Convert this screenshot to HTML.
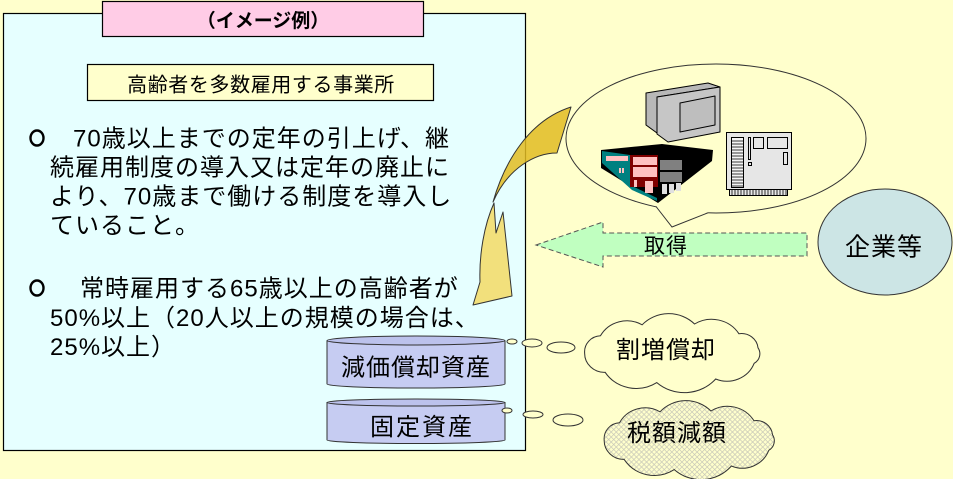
<!DOCTYPE html>
<html><head><meta charset="utf-8">
<style>
html,body{margin:0;padding:0;background:#FFFFCC;}
svg{display:block;}
text{font-family:"Liberation Sans","Noto Sans CJK JP",sans-serif;fill:#000;}
</style></head>
<body>
<svg width="953" height="479" viewBox="0 0 953 479" xmlns="http://www.w3.org/2000/svg">
<defs>
<pattern id="hatch" width="5" height="5" patternUnits="userSpaceOnUse">
<rect width="5" height="5" fill="#FFFFCC"/>
<path d="M0,0 L5,5 M5,0 L0,5" stroke="#C8C8B8" stroke-width="0.7"/>
</pattern>
</defs>
<rect x="0" y="0" width="953" height="479" fill="#FFFFCC"/>

<!-- main panel -->
<rect x="3.5" y="13.5" width="522" height="437" fill="#E6FFFF" stroke="#000" stroke-width="1.2"/>
<!-- pink title -->
<rect x="102.5" y="1.5" width="321" height="35" fill="#FFCCE6" stroke="#000" stroke-width="1.2"/>
<text x="263" y="27" text-anchor="middle" font-size="19" font-weight="bold">（イメージ例）</text>
<!-- yellow subtitle -->
<rect x="87.5" y="64.5" width="346" height="36" fill="#FFFFCC" stroke="#000" stroke-width="1.2"/>
<text x="261" y="91.5" text-anchor="middle" font-size="20" style="letter-spacing:0.6px">高齢者を多数雇用する事業所</text>

<!-- bullet marks -->
<ellipse cx="37" cy="138" rx="6.5" ry="7.5" fill="none" stroke="#000" stroke-width="2.4"/>
<ellipse cx="37" cy="288" rx="6.5" ry="7.5" fill="none" stroke="#000" stroke-width="2.4"/>

<!-- bullet text -->
<g font-size="24" style="letter-spacing:1px">
<text x="73" y="146.5">70歳以上までの定年の引上げ、継</text>
<text x="50" y="175.5">続雇用制度の導入又は定年の廃止に</text>
<text x="50" y="204.5">より、70歳まで働ける制度を導入し</text>
<text x="50" y="233.5">ていること。</text>
<text x="80" y="296.5">常時雇用する65歳以上の高齢者が</text>
<text x="50" y="326">50%以上（20人以上の規模の場合は、</text>
<text x="50" y="355">25%以上）</text>
</g>

<!-- cylinders -->
<path d="M327,341 L327,384 A89,4 0 0 0 505,384 L505,341 Z" fill="#C6CCF2" stroke="#333" stroke-width="1"/>
<ellipse cx="416" cy="340.5" rx="89" ry="4.5" fill="#BCC2EC" stroke="#333" stroke-width="1"/>
<text x="416" y="375.5" text-anchor="middle" font-size="24" style="letter-spacing:1px">減価償却資産</text>
<path d="M327,402.5 L327,440 A89,3.5 0 0 0 505,440 L505,402.5 Z" fill="#C6CCF2" stroke="#333" stroke-width="1"/>
<ellipse cx="416" cy="402.5" rx="89" ry="3.5" fill="#BCC2EC" stroke="#333" stroke-width="1"/>
<text x="422" y="435" text-anchor="middle" font-size="24" style="letter-spacing:2px">固定資産</text>

<!-- thought bubbles -->
<g fill="#FFFFCC" stroke="#333" stroke-width="1">
<ellipse cx="512" cy="341.5" rx="5" ry="2.5"/>
<ellipse cx="532" cy="343" rx="10" ry="4"/>
<ellipse cx="561" cy="347.5" rx="14" ry="5.5"/>
<ellipse cx="507" cy="410.5" rx="5" ry="2.5"/>
<ellipse cx="533" cy="414.5" rx="10" ry="3.5"/>
<ellipse cx="568" cy="420" rx="15" ry="6"/>
</g>

<!-- cloud 1 -->
<path d="M588,353 A16,16 0 0 1 603.2,335.8 A29,29 0 0 1 643.3,324.8 A35,35 0 0 1 693.7,324 A31,31 0 0 1 736.3,333.7 A16,16 0 0 1 754.7,347.8 A11,11 0 0 1 751,363.3 A28,28 0 0 1 714,379 A40,40 0 0 1 657.4,382.6 A36,36 0 0 1 607.7,372.3 A19,19 0 0 1 588,353 Z" fill="#FFFFCC" stroke="#333" stroke-width="1" transform="translate(672,353) scale(1.04,1.0) translate(-672,-353)"/>
<text x="666" y="358" text-anchor="middle" font-size="24" style="letter-spacing:1px">割増償却</text>
<!-- cloud 2 -->
<path d="M588,353 A16,16 0 0 1 603.2,335.8 A29,29 0 0 1 643.3,324.8 A35,35 0 0 1 693.7,324 A31,31 0 0 1 736.3,333.7 A16,16 0 0 1 754.7,347.8 A11,11 0 0 1 751,363.3 A28,28 0 0 1 714,379 A40,40 0 0 1 657.4,382.6 A36,36 0 0 1 607.7,372.3 A19,19 0 0 1 588,353 Z" fill="url(#hatch)" stroke="#333" stroke-width="1" transform="translate(689,440) scale(1.01,1.0) translate(-672,-353)"/>
<text x="677" y="441" text-anchor="middle" font-size="24" style="letter-spacing:1px">税額減額</text>

<!-- speech bubble -->
<ellipse cx="716" cy="138.5" rx="150" ry="74.5" fill="#FFFFCC" stroke="#333" stroke-width="1"/>
<polygon points="654,203 672,227 711,211 700,207 665,202" fill="#FFFFCC"/>
<polyline points="656,206.5 672,227 708,212.8" fill="none" stroke="#333" stroke-width="1"/>

<!-- monitor -->
<g stroke="#000" stroke-width="1" stroke-linejoin="round">
<polygon points="646,93 708,83 720,87 657,97 657,133 646,125" fill="#B8B8B8"/>
<polygon points="657,97 720,87 720,132 668,142 657,134" fill="#C6C6C6"/>
<polygon points="680,103 715,96 715,125 680,132" fill="#BEBEBE"/>
</g>

<!-- building -->
<g stroke-linejoin="round">
<polygon points="601,150 662,144 713,150 712,161 658,203 601,168" fill="#000"/>
<polygon points="602,151 630,155 630,185 657,198 657,201 632,190 602,163" fill="#008080"/>
<rect x="606" y="156" width="22" height="5" fill="#FFC0C0"/>
<rect x="619" y="168" width="2" height="5" fill="#FFC0C0"/>
<rect x="622" y="168" width="2" height="5" fill="#FFC0C0"/>
<rect x="630" y="155" width="28" height="32" fill="#800000"/>
<rect x="633" y="157" width="24" height="8" fill="#FFC0C0"/>
<rect x="633" y="167" width="24" height="10" fill="#FFC0C0"/>
<rect x="634" y="180" width="3" height="7" fill="#FFC0C0"/>
<rect x="645" y="181" width="8" height="12" fill="#FFC0C0"/>
<rect x="660" y="160" width="22" height="10" fill="#808080"/>
<rect x="660" y="172" width="22" height="10" fill="#808080"/>
<rect x="662" y="184" width="5" height="10" fill="#E0E0E0"/>
<rect x="669" y="184" width="5" height="9" fill="#E0E0E0"/>
<rect x="676" y="183" width="5" height="8" fill="#E0E0E0"/>
</g>

<!-- circuit board -->
<g stroke="#000" stroke-width="1" fill="#E6E6E6">
<rect x="729.5" y="189.5" width="58" height="6" fill="#E6E6E6"/>
<path d="M732,190v6M735,190v6M738,190v6M741,190v6M744,190v6M747,190v6M750,190v6M753,190v6M756,190v6M759,190v6M762,190v6M765,190v6M768,190v6M771,190v6M774,190v6M777,190v6M780,190v6M783,190v6M786,190v6" stroke-width="0.8"/>
<rect x="726.5" y="132.5" width="65" height="57"/>
<rect x="731.5" y="137.5" width="12" height="50" fill="#F4F4F4"/>
<path d="M731,141h13M731,144h13M731,147h13M731,150h13M731,153h13M731,156h13M731,159h13M731,162h13M731,165h13M731,168h13M731,171h13M731,174h13M731,177h13M731,180h13M731,183h13M731,186h13" stroke-width="0.8"/>
<rect x="748.5" y="137.5" width="2" height="22"/>
<rect x="748.5" y="162.5" width="3" height="3"/>
<rect x="753.5" y="137.5" width="10" height="11"/>
<rect x="767.5" y="137.5" width="20" height="11"/>
<rect x="783.5" y="152.5" width="4" height="12"/>
</g>

<!-- green arrow -->
<polygon points="536,245 603,222 603,233 807,233 807,256 603,256 603,267" fill="#C0FFC0" stroke="#555" stroke-width="1" stroke-dasharray="5,3"/>
<text x="666" y="253" text-anchor="middle" font-size="21" style="letter-spacing:1px">取得</text>

<!-- company ellipse -->
<ellipse cx="885" cy="242" rx="67" ry="53" fill="#CCE5E5" stroke="#333" stroke-width="1"/>
<text x="884" y="255.5" text-anchor="middle" font-size="25" style="letter-spacing:1px">企業等</text>

<!-- curved yellow arrow -->
<path d="M494,203 C484,225 479,255 480,282 L473,305 L512,296 L503,212 L496,233 Z" fill="#F2E07C" stroke="#333" stroke-width="1" stroke-linejoin="round"/>
<path d="M493,202 C505,160 530,120 571,107 L557,153 C535,153 508,168 493,202 Z" fill="#E2BC22" fill-opacity="0.85" stroke="#333" stroke-width="1" stroke-linejoin="round"/>
</svg>
</body></html>
